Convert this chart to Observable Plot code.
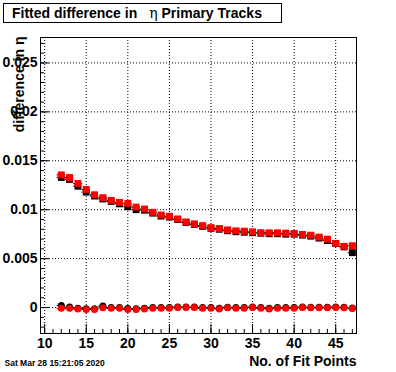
<!DOCTYPE html>
<html><head><meta charset="utf-8">
<script src="https://cdn.jsdelivr.net/npm/d3@7"></script>
<script src="https://cdn.jsdelivr.net/npm/@observablehq/plot@0.6"></script>
<style>
body{margin:0;background:#fff;}
#wrap{position:relative;width:396px;height:372px;font-family:"Liberation Sans",Arial,sans-serif;}
#title{position:absolute;left:3px;top:3px;width:279px;height:20px;box-sizing:border-box;border:1px solid #000;font-weight:bold;font-size:14px;line-height:18px;padding-left:8px;white-space:nowrap;background:#fff;}
#title .eta{font-family:"DejaVu Serif","Liberation Serif",serif;font-weight:normal;margin-left:12px;}
</style>
</head><body>
<div id="wrap"><div id="title">Fitted difference in<span class="eta">η</span> Primary Tracks</div></div>
<script>
const fitPoints = [12,13,14,15,16,17,18,19,20,21,22,23,24,25,26,27,28,29,30,31,32,33,34,35,36,37,38,39,40,41,42,43,44,45,46,47];
const redSquares = [0.01356,0.01329,0.01268,0.01207,0.01153,0.01123,0.01095,0.01075,0.01065,0.01027,0.01007,0.00974,0.00946,0.00933,0.00906,0.00875,0.00855,0.00837,0.00817,0.00808,0.00794,0.00784,0.00781,0.00774,0.00764,0.00764,0.00764,0.00761,0.00757,0.00747,0.00740,0.00720,0.00699,0.00656,0.00626,0.00632];
const blackSquares = [0.01330,0.01310,0.01240,0.01180,0.01140,0.01110,0.01085,0.01060,0.01030,0.01000,0.00995,0.00965,0.00935,0.00925,0.00900,0.00870,0.00850,0.00830,0.00810,0.00800,0.00785,0.00775,0.00770,0.00765,0.00760,0.00755,0.00755,0.00750,0.00750,0.00740,0.00730,0.00710,0.00685,0.00655,0.00620,0.00561];
const redCircles = [-0.00007,-0.00007,-0.00014,-0.0002,-0.0002,-0.00003,-0.00007,-0.00007,-0.0002,-0.0002,-0.00014,-0.00007,-0.00007,-0.00007,0,0,0,-0.00007,-0.00007,-0.00014,-0.00003,-0.00007,-0.00007,0,-0.00007,-0.00014,-0.00007,-0.00007,-0.00007,0,-0.00003,-0.00003,-0.00003,0,-0.00003,-0.0001];
const blackCircles = [0.0002,0.00005,-0.00008,-0.00012,-0.00012,0.00015,0,0,-0.0001,-0.00012,-0.00008,0,0,0,0.00005,0.00005,0.00005,0,0,-0.00008,0.00003,0,0,0.00005,0,-0.00008,0,0,0,0.00005,0.00003,0.00003,0.00003,0.00005,0.00003,-0.00005];
const xMajorTicks = [10,15,20,25,30,35,40,45];
const xMinorTicks = [10,11,12,13,14,15,16,17,18,19,20,21,22,23,24,25,26,27,28,29,30,31,32,33,34,35,36,37,38,39,40,41,42,43,44,45,46,47];
const yMajorTicks = [0,0.005,0.01,0.015,0.02,0.025];
const yMinorTicks = [-0.002,-0.001,0,0.001,0.002,0.003,0.004,0.005,0.006,0.007,0.008,0.009,0.01,0.011,0.012,0.013,0.014,0.015,0.016,0.017,0.018,0.019,0.02,0.021,0.022,0.023,0.024,0.025,0.026,0.027];
const titleText = "No. of Fit Points";
const yTitleText = "difference in η";
const dateText = "Sat Mar 28 15:21:05 2020";

const W=396,H=372,mL=40,mR=40,mT=37,mB=39;
const fw=W-mL-mR, fh=H-mT-mB;
const mk = vals => fitPoints.map((x,i)=>({x, v: vals[i]}));
const bS=mk(blackSquares), rS=mk(redSquares), bC=mk(blackCircles), rC=mk(redCircles);
const bars = (d)=>Plot.ruleY(d,{y:"v",x1:p=>p.x-0.5,x2:p=>p.x+0.5,stroke:"black",strokeWidth:1});

const chart = Plot.plot({
  width:W,height:H,marginLeft:mL,marginRight:mR,marginTop:mT,marginBottom:mB,
  x:{domain:[9.5,47.5]},
  y:{domain:[-0.00265,0.0276]},
  style:{fontFamily:"'Liberation Sans',Arial,sans-serif",fontSize:"14px",fontWeight:"bold",background:"transparent",overflow:"visible"},
  marks:[
    Plot.ruleX(xMajorTicks,{x:d=>d,stroke:"black",strokeDasharray:"1,2",strokeWidth:1}),
    Plot.ruleY(yMajorTicks,{y:d=>d,stroke:"black",strokeDasharray:"1,2",strokeWidth:1}),
    Plot.ruleX(xMinorTicks,{x:d=>d,stroke:"black",insetTop:fh-4}),
    Plot.ruleX(xMajorTicks,{x:d=>d,stroke:"black",insetTop:fh-9}),
    Plot.ruleY(yMinorTicks,{y:d=>d,stroke:"black",insetRight:fw-4}),
    Plot.ruleY(yMajorTicks,{y:d=>d,stroke:"black",insetRight:fw-9}),
    Plot.axisX({ticks:xMajorTicks,tickSize:0,tickPadding:5,label:null,fontSize:14,fontWeight:"bold"}),
    Plot.axisY({ticks:yMajorTicks,tickSize:0,tickPadding:3,label:null,fontSize:14,fontWeight:"bold",tickFormat:d=>String(+d.toFixed(3))}),
    bars(bS),
    Plot.dot(bS,{x:"x",y:"v",symbol:"square",r:3.9,fill:"black",stroke:null}),
    bars(rS),
    Plot.dot(rS,{x:"x",y:"v",symbol:"square",r:3.9,fill:"#ff0000",stroke:null}),
    bars(bC),
    Plot.dot(bC,{x:"x",y:"v",symbol:"circle",r:3.5,fill:"black",stroke:null}),
    bars(rC),
    Plot.dot(rC,{x:"x",y:"v",symbol:"circle",r:3.5,fill:"#ff0000",stroke:null}),
    Plot.frame({stroke:"black",strokeWidth:1}),
    Plot.text([yTitleText],{text:d=>d,frameAnchor:"top-left",dx:-26,dy:-1,rotate:-90,textAnchor:"end",fontSize:14,fontWeight:"bold"}),
    Plot.text([titleText],{text:d=>d,frameAnchor:"bottom-right",textAnchor:"end",dy:32,fontSize:14,fontWeight:"bold"}),
    Plot.text([dateText],{text:d=>d,frameAnchor:"bottom-left",textAnchor:"start",dx:-36,dy:32,fontSize:8.5,fontWeight:"bold"})
  ]
});
chart.style.position="absolute";chart.style.left="0";chart.style.top="0";
document.getElementById("wrap").prepend(chart);
</script>
</body></html>
